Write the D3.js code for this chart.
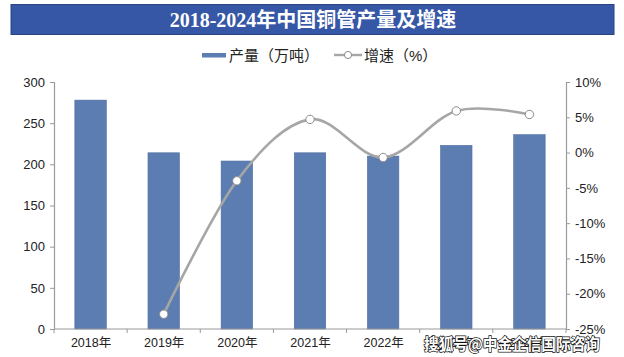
<!DOCTYPE html>
<html><head><meta charset="utf-8">
<script src="https://cdn.jsdelivr.net/npm/d3@7"></script>
<style>
body{margin:0;background:#fff;}
svg{display:block;}
</style></head>
<body>
<svg id="c" width="624" height="357"></svg>
<script>
const categories = ["2018年","2019年","2020年","2021年","2022年","2023年","2024年"];
const production = [278, 214, 204, 214, 210, 223, 236];
const growth = [null, -22.9, -4.0, 4.7, -0.7, 5.9, 5.4];
const leftTicks = [0,50,100,150,200,250,300];
const rightTicks = [-25,-20,-15,-10,-5,0,5,10];
const titleText = "2018-2024年中国铜管产量及增速";
const legendBar = "产量（万吨）";
const legendLine = "增速（%）";
const watermark = "搜狐号@中金企信国际咨询";

const svg = d3.select("#c");
const L = 54, R = 566, T = 82, B = 329;
const font = "'Liberation Sans', Arial, 'Noto Sans CJK SC', sans-serif";

// title banner
svg.append("rect").attr("x",11).attr("y",4.5).attr("width",603).attr("height",30)
  .attr("fill","#3557A5").attr("stroke","#2A4383").attr("stroke-width",1);
svg.append("text").attr("x",313).attr("y",27).attr("text-anchor","middle")
  .attr("fill","#fff").attr("font-size",20).attr("font-weight","bold")
  .attr("font-family","'Liberation Serif','Noto Sans CJK SC',serif").text(titleText);

const x = d3.scaleBand().domain(categories).range([L,R]).paddingInner(0.57).paddingOuter(0.285);
const xc = d3.scalePoint().domain(categories).range([L,R]).padding(0.5);
const y = d3.scaleLinear().domain([0,300]).range([B,T]);
const y2 = d3.scaleLinear().domain([-25,10]).range([B,T]);

// bars
svg.append("g").selectAll("rect").data(production).join("rect")
  .attr("x",(d,i)=>x(categories[i])).attr("y",d=>y(d))
  .attr("width",x.bandwidth()).attr("height",d=>B-y(d))
  .attr("fill","#5B7DB1").attr("stroke","#4D6C9E").attr("stroke-width",0.6);

// axes
const axisColor = "#9A9A9A";
const gl = svg.append("g").attr("transform",`translate(${L},0)`)
  .call(d3.axisLeft(y).tickValues(leftTicks).tickSize(4).tickPadding(5));
const gr = svg.append("g").attr("transform",`translate(${R},0)`)
  .call(d3.axisRight(y2).tickValues(rightTicks).tickSize(4).tickPadding(5).tickFormat(d=>d+"%"));
const step = x.step();
const gx = svg.append("g").attr("transform",`translate(0,${B})`)
  .call(d3.axisBottom(xc).tickSize(0).tickPadding(9));
// boundary ticks on x axis
const bounds = d3.range(categories.length+1).map(i=>L+i*step);
svg.append("g").selectAll("line").data(bounds).join("line")
  .attr("x1",d=>d).attr("x2",d=>d).attr("y1",B).attr("y2",B+4).attr("stroke",axisColor);
[gl,gr,gx].forEach(g=>{
  g.selectAll("path.domain").attr("stroke",axisColor).attr("stroke-width",1.2);
  g.selectAll(".tick line").attr("stroke",axisColor);
  g.selectAll("text").attr("fill","#222").attr("font-size",13).attr("font-family",font);
});
gx.selectAll("text").attr("font-size",12.5);
gx.select("path.domain").attr("d",`M${L},0H${R}`);

// growth line
const pts = growth.map((g,i)=>({c:categories[i],g})).filter(d=>d.g!==null);
const line = d3.line().x(d=>xc(d.c)).y(d=>y2(d.g)).curve(d3.curveCardinal.tension(0));
svg.append("path").datum(pts).attr("d",line).attr("fill","none")
  .attr("stroke","#A6A6A6").attr("stroke-width",2.6);
svg.append("g").selectAll("circle").data(pts).join("circle")
  .attr("cx",d=>xc(d.c)).attr("cy",d=>y2(d.g)).attr("r",4.2)
  .attr("fill","#fff").attr("stroke","#8C8C8C").attr("stroke-width",1);

// legend
const lg = svg.append("g");
lg.append("rect").attr("x",202).attr("y",53).attr("width",24).attr("height",4.5).attr("fill","#5B7DB1");
lg.append("text").attr("x",229).attr("y",60.5).attr("font-size",15).attr("fill","#222")
  .attr("font-family",font).text(legendBar);
lg.append("line").attr("x1",334).attr("x2",362).attr("y1",55).attr("y2",55)
  .attr("stroke","#A6A6A6").attr("stroke-width",2.4);
lg.append("circle").attr("cx",348).attr("cy",55).attr("r",3.6).attr("fill","#fff")
  .attr("stroke","#8C8C8C").attr("stroke-width",1);
lg.append("text").attr("x",364).attr("y",60.5).attr("font-size",15).attr("fill","#222")
  .attr("font-family",font).text(legendLine);

// watermark
svg.append("text").attr("x",424).attr("y",350).attr("font-size",16).attr("font-weight","bold")
  .attr("font-family","'Noto Sans CJK SC',sans-serif")
  .attr("textLength",176).attr("lengthAdjust","spacingAndGlyphs")
  .attr("fill","#fff").attr("stroke","#111").attr("stroke-width",1.5).attr("paint-order","stroke")
  .text(watermark);
</script>
</body></html>
